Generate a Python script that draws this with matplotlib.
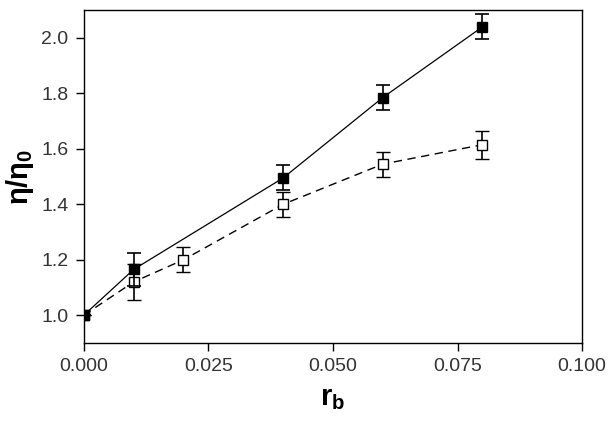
import matplotlib
matplotlib.use("Agg")
import matplotlib.pyplot as plt

plt.rcParams["font.family"] = ["Liberation Sans", "DejaVu Sans"]
plt.rcParams["mathtext.fontset"] = "custom"
plt.rcParams["mathtext.bf"] = "Liberation Sans:bold"

# filled squares (solid line)
rb_filled = [0.0, 0.01, 0.04, 0.06, 0.08]
eta_filled = [1.0, 1.165, 1.495, 1.785, 2.04]
err_filled = [0.0, 0.06, 0.045, 0.045, 0.045]

# open squares (dashed line)
rb_open = [0.0, 0.01, 0.02, 0.04, 0.06, 0.08]
eta_open = [1.0, 1.12, 1.20, 1.40, 1.545, 1.615]
err_open = [0.0, 0.065, 0.045, 0.045, 0.045, 0.05]

x_ticks = [0.000, 0.025, 0.050, 0.075, 0.100]
y_ticks = [1.0, 1.2, 1.4, 1.6, 1.8, 2.0]

fig = plt.figure(figsize=(6.16, 4.25), dpi=100)
ax = fig.add_axes([0.136, 0.193, 0.809, 0.783])

ax.errorbar(rb_open, eta_open, yerr=err_open, color="black", lw=1.0,
            ls=(0, (6, 4)), marker="s", ms=7.5, mfc="white", mec="black",
            mew=1.0, capsize=5, elinewidth=1.2, capthick=1.2, zorder=2)
ax.errorbar(rb_filled, eta_filled, yerr=err_filled, color="black", lw=0.9,
            ls="-", marker="s", ms=7.5, mfc="black", mec="black",
            capsize=5, elinewidth=1.2, capthick=1.2, zorder=3)

ax.set_xlim(0.0, 0.1)
ax.set_ylim(0.9, 2.1)
ax.set_xticks(x_ticks)
ax.set_xticklabels([f"{v:.3f}" for v in x_ticks])
ax.set_yticks(y_ticks)
ax.set_yticklabels([f"{v:.1f}" for v in y_ticks])
ax.tick_params(direction="out", length=6, width=1, labelsize=14,
               labelcolor="#333333", pad=5)
for s in ax.spines.values():
    s.set_linewidth(1.0)

ax.set_xlabel(r"$\mathbf{r_b}$", fontsize=21, labelpad=6)
ax.set_ylabel("η/η$_\\mathbf{0}$", fontsize=21, fontweight="bold", labelpad=4)

fig.savefig("out.png", dpi=100)
